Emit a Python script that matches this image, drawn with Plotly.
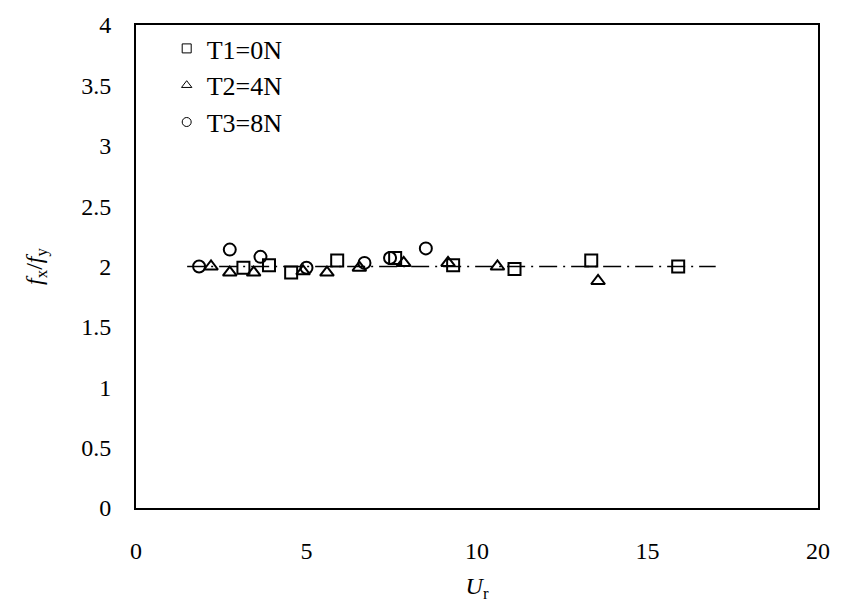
import plotly.graph_objects as go

# T1 = 0N (squares)
t1_x = [3.15, 3.9, 4.55, 5.9, 7.6, 9.3, 11.1, 13.35, 15.9]
t1_y = [1.99, 2.01, 1.95, 2.05, 2.07, 2.01, 1.98, 2.05, 2.0]
# T2 = 4N (triangles)
t2_x = [2.2, 2.75, 3.45, 4.9, 5.6, 6.55, 7.85, 9.15, 10.6, 13.55]
t2_y = [2.0, 1.95, 1.95, 1.96, 1.95, 1.99, 2.03, 2.03, 2.0, 1.88]
# T3 = 8N (circles)
t3_x = [1.85, 2.75, 3.65, 5.0, 6.7, 7.45, 8.5]
t3_y = [2.0, 2.14, 2.08, 1.99, 2.03, 2.07, 2.15]
# reference line
fit_x = [1.5, 17.0]
fit_y = [2.0, 2.0]

x_ticks = [0, 5, 10, 15, 20]
y_ticks = [0, 0.5, 1, 1.5, 2, 2.5, 3, 3.5, 4]

series_names = ["T1=0N", "T2=4N", "T3=8N"]
series_symbols = ["square-open", "triangle-up-open", "circle-open"]

serif = "Liberation Serif"
mk_line = dict(color="black", width=2)

fig = go.Figure()
fig.add_trace(go.Scatter(x=fit_x, y=fit_y, mode="lines", showlegend=False,
                         line=dict(color="black", width=1.5, dash="18px,6px,2px,6px")))
for xs, ys, nm, sym in zip([t1_x, t2_x, t3_x], [t1_y, t2_y, t3_y], series_names, series_symbols):
    fig.add_trace(go.Scatter(x=xs, y=ys, mode="markers", name=nm, showlegend=False,
                             marker=dict(symbol=sym, size=12, color="black", line=mk_line)))
# legend entries (smaller, thin markers as in the reference legend)
for i, (nm, sym) in enumerate(zip(series_names, series_symbols)):
    fig.add_trace(go.Scatter(x=[None], y=[None], mode="markers", name=nm, legendgroup=str(i),
                             marker=dict(symbol=sym, size=9, color="black",
                                         line=dict(color="black", width=1))))

fig.update_layout(
    width=842, height=608,
    margin=dict(l=136, r=17, t=20, b=100),
    paper_bgcolor="white", plot_bgcolor="white",
    font=dict(family=serif, size=24, color="black"),
    legend=dict(x=0.045, y=1.0, xanchor="left", yanchor="top",
                bgcolor="rgba(0,0,0,0)", font=dict(family=serif, size=26, color="black"),
                tracegroupgap=0, itemwidth=30),
    xaxis=dict(range=[0, 20], tickvals=x_ticks,
               ticks="outside", ticklen=20, tickcolor="rgba(0,0,0,0)",
               showgrid=False, zeroline=False,
               showline=True, linecolor="black", linewidth=2, mirror=True,
               tickfont=dict(family=serif, size=24, color="black"),
               title=dict(text="<i>U</i><sub>r</sub>", standoff=14,
                          font=dict(family=serif, size=24, color="black"))),
    yaxis=dict(range=[0, 4], tickvals=y_ticks,
               ticks="outside", ticklen=18, tickcolor="rgba(0,0,0,0)",
               showgrid=False, zeroline=False,
               showline=True, linecolor="black", linewidth=2, mirror=True,
               tickfont=dict(family=serif, size=24, color="black"),
               title=dict(text="<i>f</i><sub>x</sub>/<i>f</i><sub>y</sub>", standoff=32,
                          font=dict(family=serif, size=24, color="black"))),
)

fig.write_html("out.html")
